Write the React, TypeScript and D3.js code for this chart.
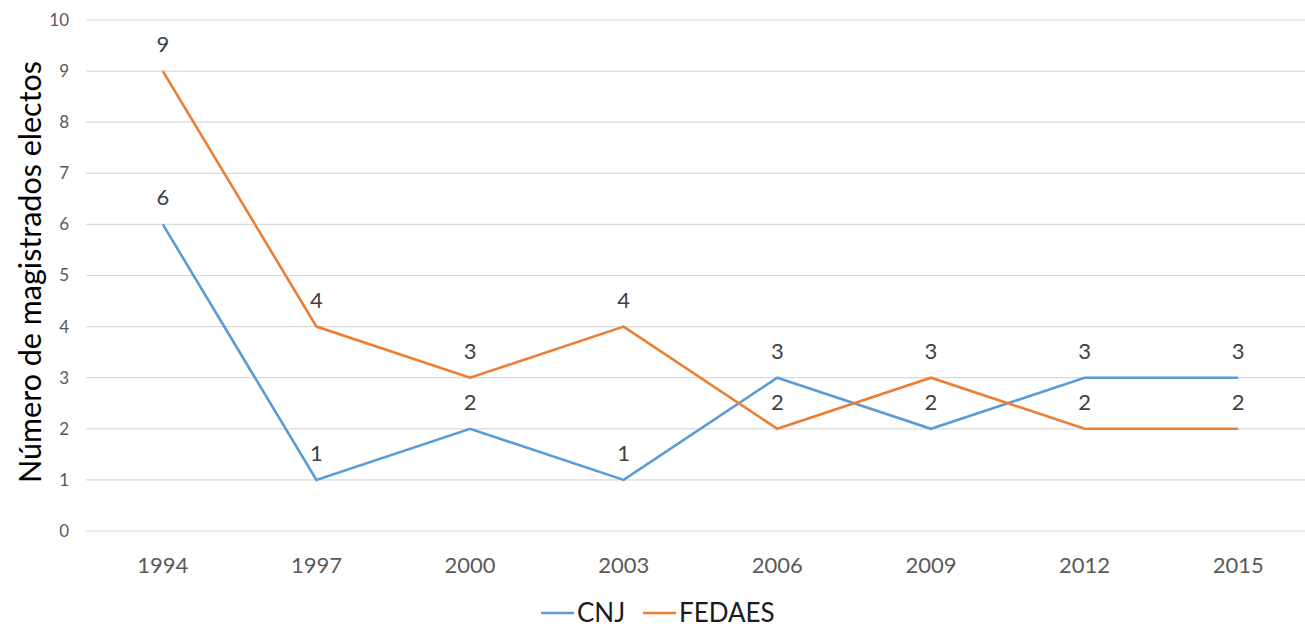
import React from "react";
import * as d3 from "d3";

const years = ["1994", "1997", "2000", "2003", "2006", "2009", "2012", "2015"];
const cnj = [6, 1, 2, 1, 3, 2, 3, 3];
const fedaes = [9, 4, 3, 4, 2, 3, 2, 2];
const yTicks = [0, 1, 2, 3, 4, 5, 6, 7, 8, 9, 10];
const seriesNames = ["CNJ", "FEDAES"];
const colors = ["#5B9BD5", "#ED7D31"];
const yTitle = "Número de magistrados electos";

const W = 1305;
const H = 627;
const FONT = "Lato, 'Open Sans', sans-serif";

export default function App() {
  const x = d3.scaleBand<string>().domain(years).range([86, 1315]).padding(0);
  const cx = (c: string) => (x(c) as number) + x.bandwidth() / 2;
  const y = d3.scaleLinear().domain([0, 10]).range([531, 20]);
  const series = [cnj, fedaes];
  const line = d3
    .line<number>()
    .x((_, i) => cx(years[i]))
    .y((d) => y(d));

  return (
    <svg
      width={W}
      height={H}
      style={{ position: "absolute", left: 0, top: 0, background: "#fff" }}
      fontFamily={FONT}
    >
      {yTicks.map((t) => (
        <g key={t}>
          <line x1={86} x2={1315} y1={y(t)} y2={y(t)} stroke="#d9d9d9" strokeWidth={1.2} />
          <text x={69} y={y(t)} dy="0.35em" textAnchor="end" fontSize={17} fill="#595959">
            {t}
          </text>
        </g>
      ))}
      {years.map((c) => (
        <text key={c} x={cx(c)} y={573} textAnchor="middle" fontSize={22} fill="#595959">
          {c}
        </text>
      ))}
      <text
        transform={`translate(41,272) rotate(-90)`}
        textAnchor="middle"
        fontSize={30.5}
        fill="#000"
      >
        {yTitle}
      </text>
      {series.map((s, si) => (
        <path
          key={si}
          d={line(s) || ""}
          fill="none"
          stroke={colors[si]}
          strokeWidth={2.6}
          strokeLinejoin="miter"
        />
      ))}
      {series.map((s, si) =>
        s.map((v, i) => (
          <text
            key={`${si}-${i}`}
            x={cx(years[i])}
            y={y(v) - 19}
            textAnchor="middle"
            fontSize={22}
            fill="#404040"
          >
            {v}
          </text>
        ))
      )}
      {seriesNames.map((n, i) => {
        const lx = i === 0 ? 541 : 643;
        return (
          <g key={n}>
            <line x1={lx} x2={lx + 33} y1={613} y2={613} stroke={colors[i]} strokeWidth={2.6} />
            <text x={lx + 36} y={613} dy="0.35em" fontSize={26} fill="#1a1a1a">
              {n}
            </text>
          </g>
        );
      })}
    </svg>
  );
}
